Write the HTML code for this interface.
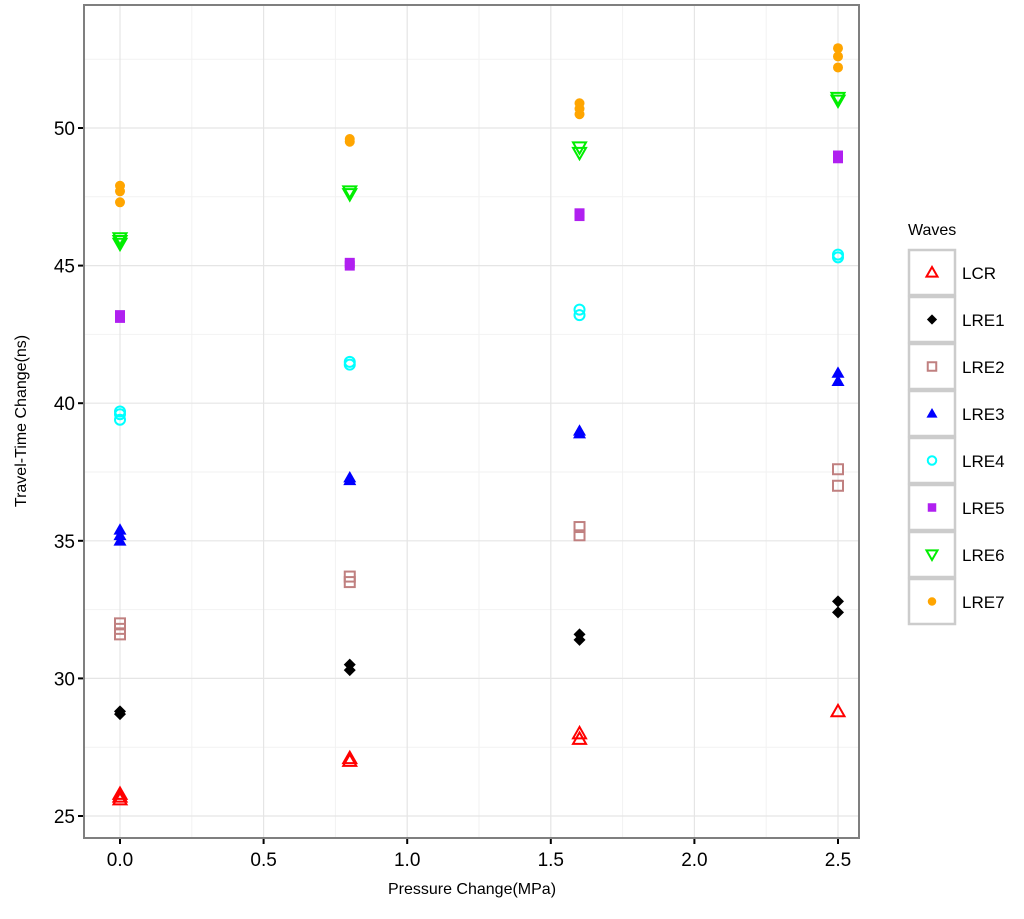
<!DOCTYPE html>
<html><head><meta charset="utf-8"><style>
body{margin:0;background:#fff;}
svg text{font-family:"Liberation Sans",Arial,sans-serif;}
</style></head><body>
<svg id="chart" width="1024" height="914" xmlns="http://www.w3.org/2000/svg"></svg>
<script>
const seriesNames=["LCR","LRE1","LRE2","LRE3","LRE4","LRE5","LRE6","LRE7"];
const pressures=[0,0.8,1.6,2.5];
const lcrValues=[[25.6,25.7,25.8],[27.0,27.1],[27.8,28.0],[28.8]];
const lre1Values=[[28.7,28.8],[30.3,30.5],[31.4,31.6],[32.4,32.8]];
const lre2Values=[[31.6,31.8,32.0],[33.5,33.7],[35.2,35.5],[37.0,37.6]];
const lre3Values=[[35.0,35.2,35.4],[37.2,37.3],[38.9,39.0],[40.8,41.1]];
const lre4Values=[[39.4,39.6,39.7],[41.4,41.5],[43.2,43.4],[45.3,45.4]];
const lre5Values=[[43.1,43.2],[45.0,45.1],[46.8,46.9],[48.9,49.0]];
const lre6Values=[[45.8,45.9,46.0],[47.6,47.7],[49.1,49.3],[51.0,51.1]];
const lre7Values=[[47.3,47.7,47.9],[49.5,49.6],[50.5,50.7,50.9],[52.2,52.6,52.9]];
const xTicks=[0,0.5,1,1.5,2,2.5];
const xTickLabels=["0.0","0.5","1.0","1.5","2.0","2.5"];
const yTicks=[25,30,35,40,45,50];
const yTickLabels=["25","30","35","40","45","50"];

const allValues=[lcrValues,lre1Values,lre2Values,lre3Values,lre4Values,lre5Values,lre6Values,lre7Values];
const colors=["#ff0000","#000000","#c08080","#0000ff","#00ffff","#b020f0","#00ee00","#ffa500"];
const shapes=["triOpen","diamond","sqOpen","tri","circOpen","sq","triDownOpen","circ"];
const P={l:84,r:859,t:5,b:838};
const X=v=>120+(838-120)*v/2.5;
const Y=v=>816-(816-128)*(v-25)/25;
const svg=document.getElementById('chart');
const NS="http://www.w3.org/2000/svg";
function mk(tag,attrs,parent){const e=document.createElementNS(NS,tag);for(const k in attrs)e.setAttribute(k,attrs[k]);(parent||svg).appendChild(e);return e;}
// panel bg
const bg=mk('rect',{x:P.l,y:P.t,width:P.r-P.l,height:P.b-P.t,fill:'#fff'});


// minor grid
for(let v=0.25;v<2.6;v+=0.5){const l=mk('line',{x1:X(v),x2:X(v),y1:P.t,y2:P.b,stroke:'#f2f2f2','stroke-width':1});}
for(let v=22.5;v<=55;v+=5){const y=Y(v);if(y<P.t||y>P.b)continue;const l=mk('line',{x1:P.l,x2:P.r,y1:y,y2:y,stroke:'#f2f2f2','stroke-width':1});}
// major grid + ticks
xTicks.forEach((v,i)=>{
 const g=mk('line',{x1:X(v),x2:X(v),y1:P.t,y2:P.b,stroke:'#e5e5e5','stroke-width':1.2});
 
 const t=mk('line',{x1:X(v),x2:X(v),y1:P.b,y2:P.b+6,stroke:'#000','stroke-width':2});
 
 const tx=mk('text',{x:X(v),y:866,'text-anchor':'middle','font-size':19,fill:'#000'});tx.textContent=xTickLabels[i];
 
});
yTicks.forEach((v,i)=>{
 const g=mk('line',{x1:P.l,x2:P.r,y1:Y(v),y2:Y(v),stroke:'#e5e5e5','stroke-width':1.2});
 
 const t=mk('line',{x1:P.l-6,x2:P.l,y1:Y(v),y2:Y(v),stroke:'#000','stroke-width':2});
 
 const tx=mk('text',{x:P.l-9,y:Y(v)+7,'text-anchor':'end','font-size':19,fill:'#000'});tx.textContent=yTickLabels[i];
 
});
function marker(shape,cx,cy,c,parent,s){
 s=s||1;let e;
 if(shape==='triOpen'||shape==='tri'){const h=6.5*s;e=mk('polygon',{points:`${cx},${cy-h} ${cx-h},${cy+h*0.75} ${cx+h},${cy+h*0.75}`},parent);}
 else if(shape==='triDownOpen'){const h=6.5*s;e=mk('polygon',{points:`${cx},${cy+h} ${cx-h},${cy-h*0.75} ${cx+h},${cy-h*0.75}`},parent);}
 else if(shape==='diamond'){const h=6*s;e=mk('polygon',{points:`${cx},${cy-h} ${cx+h},${cy} ${cx},${cy+h} ${cx-h},${cy}`},parent);}
 else if(shape==='sqOpen'||shape==='sq'){const h=5*s;e=mk('rect',{x:cx-h,y:cy-h,width:2*h,height:2*h},parent);}
 else {e=mk('circle',{cx,cy,r:5*s},parent);}
 if(shape.endsWith('Open')){e.setAttribute('fill','none');e.setAttribute('stroke',c);e.setAttribute('stroke-width',2);}
 else e.setAttribute('fill',c);
 return e;
}
allValues.forEach((vals,si)=>{
 const g=mk('g',{});
 
 
 vals.forEach((arr,pi)=>arr.forEach(v=>{
  const m=marker(shapes[si],X(pressures[pi]),Y(v),colors[si],g);
  
  
 }));
});
// border
const br=mk('rect',{x:P.l,y:P.t,width:P.r-P.l,height:P.b-P.t,fill:'none',stroke:'#7f7f7f','stroke-width':2});

// axis titles
const xt=mk('text',{x:472,y:894,'text-anchor':'middle','font-size':16,fill:'#000'});xt.textContent='Pressure Change(MPa)';

const yt=mk('text',{x:0,y:0,'text-anchor':'middle','font-size':16,fill:'#000',transform:'translate(26,421) rotate(-90)'});yt.textContent='Travel-Time Change(ns)';

// legend
const lg=mk('g',{});

const lt=mk('text',{x:908,y:235,'font-size':16,fill:'#000'},lg);lt.textContent='Waves';

seriesNames.forEach((n,i)=>{
 const y0=250+i*47;
 const e=mk('g',{},lg);
 
 
 mk('rect',{x:909,y:y0,width:46,height:45,fill:'#fff',stroke:'#cccccc','stroke-width':2.5},e);
 marker(shapes[i],932,y0+22.5,colors[i],e,0.85);
 const t=mk('text',{x:962,y:y0+29,'font-size':17,fill:'#000'},e);t.textContent=n;
});
</script>
</body></html>
